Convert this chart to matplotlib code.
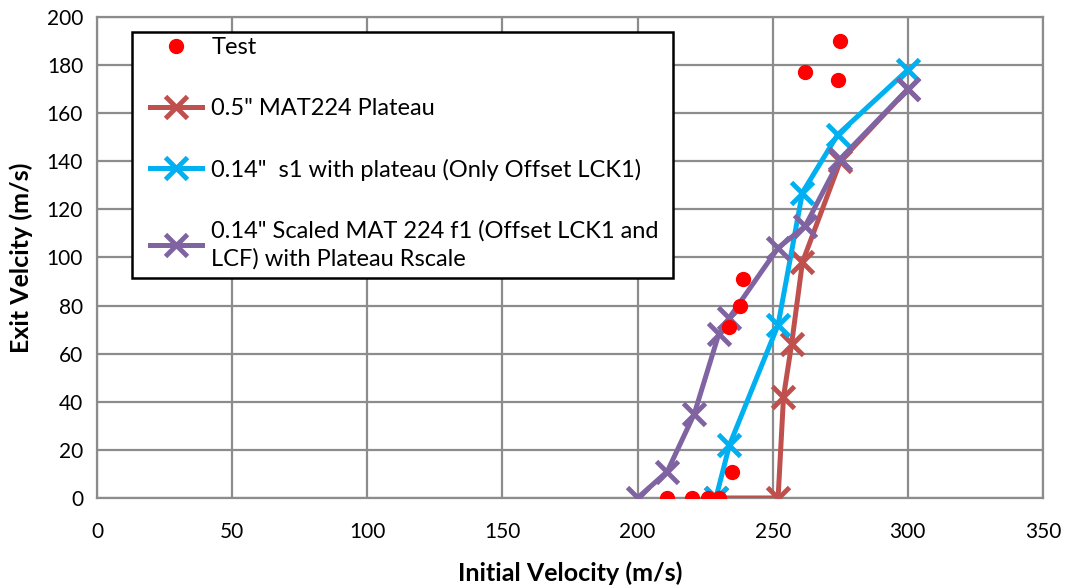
import numpy as np
import matplotlib.pyplot as plt
from matplotlib.patches import Rectangle

plt.rcParams['font.family'] = ['Lato', 'DejaVu Sans']

# Test data
test_x = [211, 220, 226, 230, 235, 234, 238, 239, 262, 275, 274]
test_y = [0, 0, 0, 0, 11, 71, 80, 91, 177, 190, 174]

# 0.5" MAT224 Plateau
mat_x = [229, 252, 254, 257, 261, 275, 300]
mat_y = [0, 0, 42, 64, 98, 140, 170]

# 0.14" s1 with plateau
s1_x = [229, 234, 252, 261, 274, 300]
s1_y = [0, 22, 72, 127, 151, 178]

# 0.14" Scaled MAT 224 f1
sc_x = [200, 211, 221, 230, 234, 252, 262, 275, 300]
sc_y = [0, 11, 35, 68, 75, 104, 113, 141, 170]

fig = plt.figure(figsize=(10.65, 5.88), dpi=100)
ax = fig.add_axes([0.0911, 0.1531, 0.8882, 0.818])

ax.plot(test_x, test_y, 'o', color='#FF0000', markersize=10, linestyle='none', label='Test', zorder=5)
ax.plot(mat_x, mat_y, color='#C0504D', lw=3.6, marker='x', markersize=16, mew=3.5,
        label='0.5" MAT224 Plateau', zorder=3)
ax.plot(s1_x, s1_y, color='#00B0F0', lw=3.6, marker='x', markersize=16, mew=3.5,
        label='0.14"  s1 with plateau (Only Offset LCK1)', zorder=4)
ax.plot(sc_x, sc_y, color='#8064A2', lw=3.6, marker='x', markersize=16, mew=3.5,
        label='0.14" Scaled MAT 224 f1 (Offset LCK1 and\nLCF) with Plateau Rscale', zorder=4)

ax.set_xlim(0, 350)
ax.set_ylim(0, 200)
ax.set_xticks(np.arange(0, 351, 50))
ax.set_yticks(np.arange(0, 201, 20))
ax.grid(True, color='#8C8C8C', lw=1.6)
ax.set_axisbelow(True)
for s in ax.spines.values():
    s.set_color('#8C8C8C')
    s.set_linewidth(1.6)
ax.tick_params(length=0, labelsize=15)
ax.tick_params(axis='x', pad=17)
ax.tick_params(axis='y', pad=10)

ax.set_xlabel('Initial Velocity (m/s)', fontsize=18, fontweight='bold', labelpad=14)
ax.set_ylabel('Exit Velcity (m/s)', fontsize=18, fontweight='bold', labelpad=10)

# legend box
ax.add_patch(Rectangle((0.037, 0.457), 0.572, 0.512, transform=ax.transAxes,
                       facecolor='white', edgecolor='black', lw=1.8, zorder=6))
leg = ax.legend(loc='upper left', bbox_to_anchor=(0.056, 0.958), fontsize=17,
                frameon=False, labelspacing=1.68, handlelength=2.2, handletextpad=0.4,
                borderpad=0, borderaxespad=0)
leg.get_texts()[3].set_linespacing(1.35)
leg.set_zorder(7)

plt.savefig('out.png', dpi=100)
